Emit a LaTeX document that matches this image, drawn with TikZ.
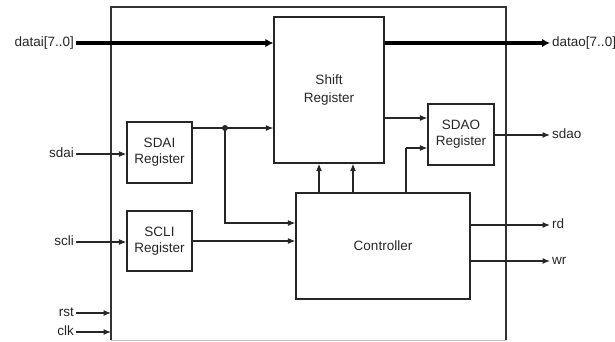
\documentclass[tikz,border=0pt]{standalone}
\usepackage{fontspec}
\setmainfont{Liberation Sans}
\usetikzlibrary{arrows.meta}
\begin{document}
\begin{tikzpicture}[x=1pt,y=-1pt,
  txt/.style={font=\fontsize{13.5}{16}\selectfont, text=black!85},
  blk/.style={draw, draw=black!85, line width=1.2pt, align=center, txt, inner sep=0pt},
  lbl/.style={txt, inner sep=2pt, text height=9.5pt, text depth=2pt},
  wire/.style={line width=1.2pt, draw=black!85, -{Latex[length=7.5pt,width=6pt]}},
  plain/.style={line width=1.2pt, draw=black!85},
  bus/.style={line width=4.4pt, -{Latex[length=8pt,width=8.5pt]}}]
\clip (0,0) rectangle (615,341);

% chip boundary
\draw[line width=1.2pt, black!80] (111,340) -- (111,7) -- (506,7) -- (506,340);
\draw[line width=0.8pt, black!25] (111,340) -- (506,340);

% internal blocks
\node[blk, minimum width=110pt, minimum height=146pt] (sr)   at (329,90)    {Shift\\[2pt]Register};
\node[blk, minimum width=65pt,  minimum height=61pt]  (sdai) at (159.5,152.5) {SDAI\\Register};
\node[blk, minimum width=65pt,  minimum height=60pt]  (scli) at (159.5,241)   {SCLI\\Register};
\node[blk, minimum width=174pt, minimum height=106pt] (ctl)  at (383,246)     {Controller};
\node[blk, minimum width=66pt,  minimum height=61pt]  (sdao) at (461,134.5)   {SDAO\\Register};

% input ports
\node[lbl, anchor=east] (ldatai) at (76,43)  {datai[7..0]};
\node[lbl, anchor=east] (lsdai)  at (76,154) {sdai};
\node[lbl, anchor=east] (lscli)  at (76,242) {scli};
\node[lbl, anchor=east] (lrst)   at (76,313) {rst};
\node[lbl, anchor=east] (lclk)   at (76,332) {clk};

% output ports
\node[lbl, anchor=west] (ldatao) at (550,43)  {datao[7..0]};
\node[lbl, anchor=west] (lsdao)  at (550,135) {sdao};
\node[lbl, anchor=west] (lrd)    at (550,225) {rd};
\node[lbl, anchor=west] (lwr)    at (550,261) {wr};

% parallel data buses
\draw[bus] (ldatai.east) -- (ldatai.east -| sr.west);
\coordinate (dout) at (sr.east |- ldatao.west);
\draw[bus] (dout) -- (ldatao.west);

% serial inputs
\draw[wire] (lsdai.east) -- (lsdai.east -| sdai.west);
\draw[wire] (lscli.east) -- (lscli.east -| scli.west);
\draw[wire] (lrst.east) -- (lrst.east -| 111,0);
\draw[wire] (lclk.east) -- (lclk.east -| 111,0);

% SDAI register output, split to shift register and controller
\coordinate (sdaiout) at (192,128);
\coordinate (tap) at (225,128);
\draw[wire] (sdaiout) -- (sdaiout -| sr.west);
\draw[wire] (tap) |- (ctl.west |- 0,223);
\fill[black!85] (tap) circle (3pt);

% SCLI register output to controller
\draw[wire] (scli.east) -- (scli.east -| ctl.west);

% controller to shift register
\draw[wire] (319,0 |- ctl.north) -- (319,0 |- sr.south);
\draw[wire] (353,0 |- ctl.north) -- (353,0 |- sr.south);

% controller to SDAO register
\coordinate (cq) at (406,148);
\draw[plain] (406,0 |- ctl.north) -- (cq);
\draw[wire] (cq) -- (cq -| sdao.west);

% shift register serial output to SDAO register
\coordinate (srq) at (384,118);
\draw[wire] (srq) -- (srq -| sdao.west);

% outputs
\draw[wire] (sdao.east |- lsdao.west) -- (lsdao.west);
\draw[wire] (ctl.east |- lrd.west) -- (lrd.west);
\draw[wire] (ctl.east |- lwr.west) -- (lwr.west);
\end{tikzpicture}
\end{document}
